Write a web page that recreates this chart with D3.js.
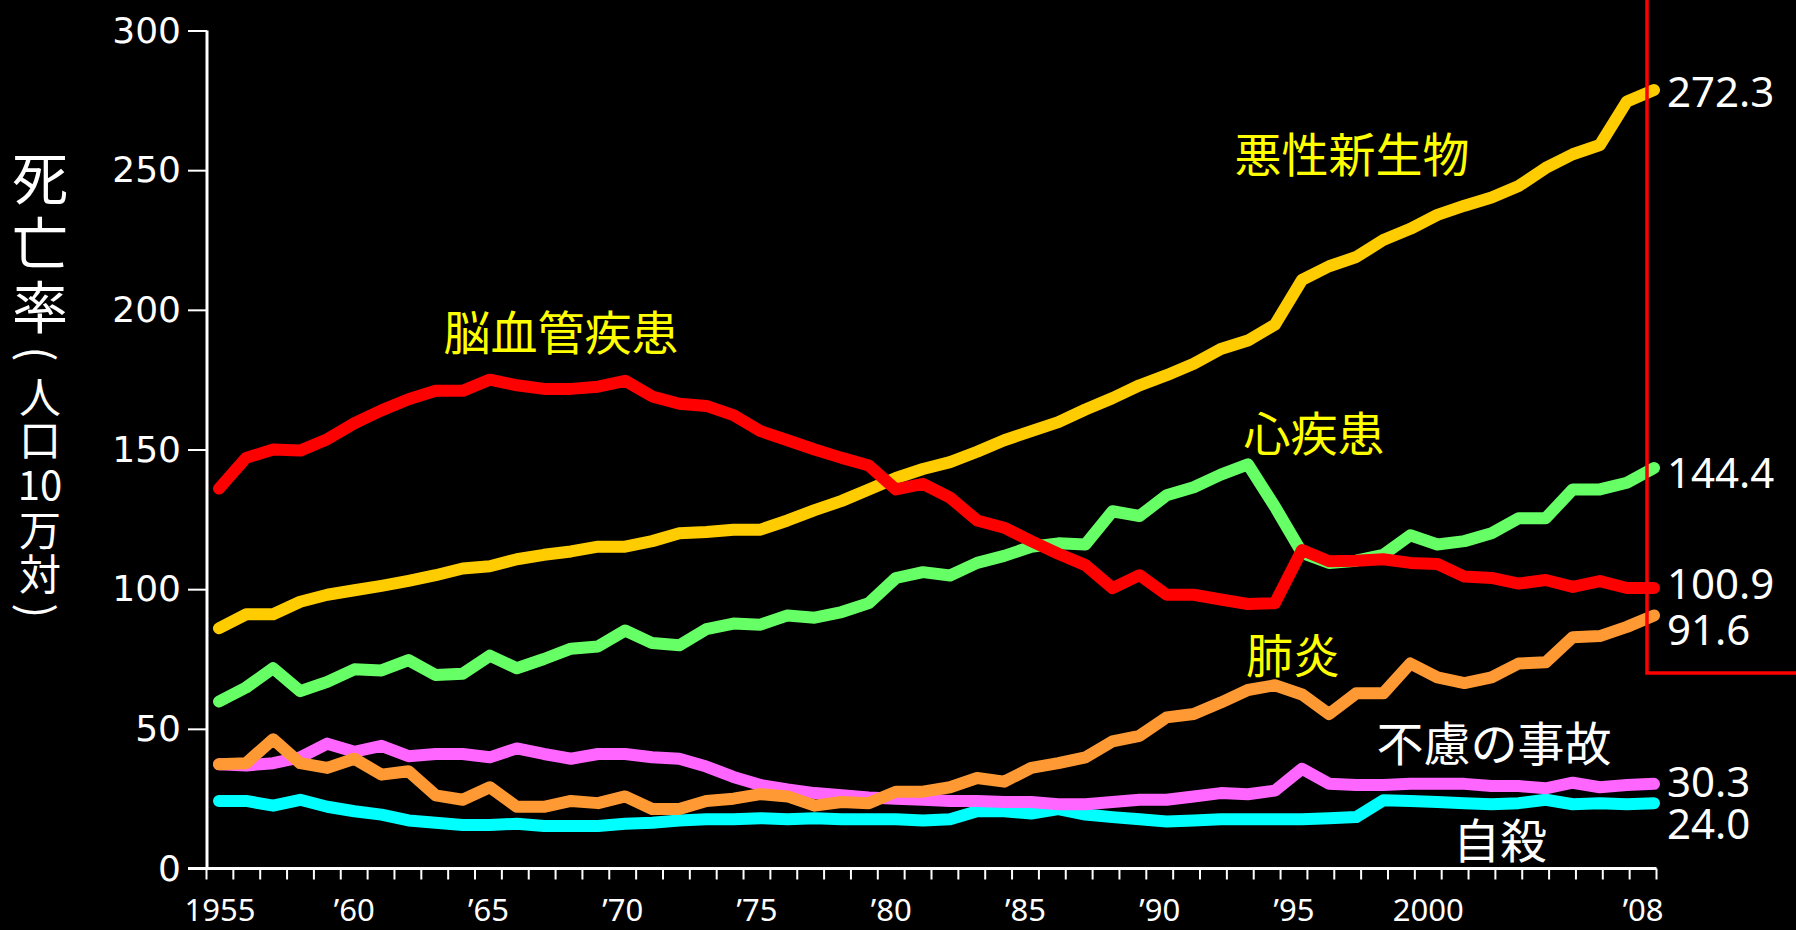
<!DOCTYPE html>
<html><head><meta charset="utf-8">
<script src="https://cdn.jsdelivr.net/npm/d3@7/dist/d3.min.js"></script>
<style>html,body{margin:0;padding:0;background:#000;overflow:hidden}</style>
</head><body>
<svg id="c" width="1796" height="930"></svg>
<script>
const years = d3.range(1955, 2009);
const xTickLabels = {1955:"1955",1960:"’60",1965:"’65",1970:"’70",1975:"’75",1980:"’80",1985:"’85",1990:"’90",1995:"’95",2000:"2000",2008:"’08"};
const yTicks = [0,50,100,150,200,250,300];

const cancer = [86,91,91,95.5,98,99.6,101.2,103,105,107.4,108.2,110.7,112.3,113.5,115.2,115.2,117.2,120,120.5,121.3,121.3,124.6,128.3,131.6,135.7,139.8,143,145.5,149.2,153.3,156.6,159.8,164.3,168.4,173,176.6,180.7,186,189,194.7,210.7,215.6,218.9,225,229,234,237.3,240.2,244.3,250.8,255.7,259,274.6,278.7];
const stroke = [136,147,150,149.6,153.7,159.4,164,168,171,171,175,173,171.7,171.7,172.5,174.6,169,166.4,165.6,162.3,156.6,153.3,150,147,144.3,135.7,137.7,132.8,124.6,122,117.2,112.7,108.6,100.4,105,98,98,96.3,94.7,95,114,110,110.2,110.7,109.4,109,104.5,104,102,103.3,100.8,102.9,100.4,100.4];
const heart = [59.8,64.8,71.7,63.5,66.8,71.3,70.9,74.6,69.3,69.7,76.2,71.7,75,78.7,79.5,85.2,80.7,79.9,85.7,87.7,87.3,90.6,89.8,91.8,95,104,106.1,104.9,109.4,111.9,115.2,116.4,116,127.9,126.2,133.6,136.5,141,144.7,129.5,113,109.4,110.2,112.3,119.3,116,117.2,120,125.4,125.4,135.7,135.7,138.1,143.4];
const pneumonia = [37.3,37.7,46.3,37.7,36,39.3,33.6,34.8,26.2,24.6,29.1,22.1,22.1,24.2,23.4,25.8,21.3,21.3,24.2,25,26.6,25.8,22.5,23.8,23.4,27.5,27.5,29.1,32.4,31.1,36,37.7,39.8,45.5,47.5,54.1,55.3,59.4,63.9,65.6,62.3,55.3,62.7,62.7,73.4,68.4,66.4,68.4,73.4,73.8,82.8,83.2,86.5,90.6];
const accident = [37.3,36.9,37.7,39.8,44.7,41.8,43.9,40.2,41,41,39.8,43,41,39.3,41,41,39.8,39.3,36.5,32.8,29.9,28.3,27,26.2,25.4,25,24.6,24.2,24.2,23.8,23.8,23,23,23.8,24.6,24.6,25.8,27,26.6,27.9,35.7,30.3,29.9,29.9,30.3,30.3,30.3,29.5,29.5,28.7,30.7,29.1,29.9,30.3];
const suicide = [24.2,24.2,22.5,24.6,22.1,20.5,19.3,17.2,16.4,15.6,15.6,16,15.2,15.2,15.2,16,16.4,17.2,17.6,17.6,18,17.6,18,17.6,17.6,17.6,17.2,17.6,20.5,20.5,19.7,21.3,19.3,18.4,17.6,16.8,17.2,17.6,17.6,17.6,17.6,18,18.4,24.4,24.2,23.8,23.4,23,23.4,24.6,23,23.4,23,23.4];

const seriesNames = ["自殺","不慮の事故","肺炎","心疾患","悪性新生物","脳血管疾患"];
const seriesData = [suicide, accident, pneumonia, heart, cancer, stroke];
const seriesColors = ["#00FFFF","#FF66FF","#FF9933","#66FF66","#FFCC00","#FF0000"];
const endLabels = ["24.0","30.3","91.6","144.4","272.3","100.9"];

const svg = d3.select("#c");
svg.append("rect").attr("width",1796).attr("height",930).attr("fill","#000");

const y = d3.scaleLinear().domain([0,300]).range([868.5,30.5]);
const xBand = d3.scaleBand().domain(years).range([206.5,1656.5]).padding(0);
const xPt = d3.scalePoint().domain(years).range([219,1654]);

// Lines
const line = d3.line().x((d,i)=>xPt(years[i])).y(d=>y(d));
seriesData.forEach((s,k)=>{
  svg.append("path").datum(s).attr("d",line).attr("fill","none")
    .attr("stroke",seriesColors[k]).attr("stroke-width",12)
    .attr("stroke-linecap","round").attr("stroke-linejoin","round");
});

// Y axis
const yAxis = svg.append("g").attr("transform","translate(207,0)")
  .call(d3.axisLeft(y).tickValues(yTicks).tickSize(19).tickPadding(7).tickFormat(d3.format("d")));
yAxis.select(".domain").attr("stroke","#fff").attr("stroke-width",3).attr("d","M0,30.5V868.5");
yAxis.selectAll(".tick line").attr("stroke","#fff").attr("stroke-width",2);
yAxis.selectAll(".tick text").attr("fill","#fff").attr("font-family","DejaVu Sans").attr("font-size",36);

// X axis
const xAxis = svg.append("g").attr("transform","translate(0,868.5)");
xAxis.append("line").attr("x1",188).attr("x2",1656.5).attr("y1",0).attr("y2",0).attr("stroke","#fff").attr("stroke-width",3);
const bounds = years.map(yr=>xBand(yr)).concat([xBand(2008)+xBand.bandwidth()]);
xAxis.selectAll("line.tk").data(bounds).enter().append("line").attr("class","tk")
  .attr("x1",d=>d).attr("x2",d=>d).attr("y1",0).attr("y2",11).attr("stroke","#fff").attr("stroke-width",2);
xAxis.selectAll("text").data(years.filter(yr=>xTickLabels[yr])).enter().append("text")
  .attr("x",d=>xBand(d)+xBand.bandwidth()/2).attr("y",52).attr("text-anchor","middle")
  .attr("fill","#fff").attr("font-family","Noto Sans").attr("font-size",31)
  .text(d=>xTickLabels[d]);

// Y title (vertical)
const titleParts = [["死",174,56,0],["亡",239,56,0],["率",303,56,0],["(",354,44,90],["人",394,42,0],["口",437,42,0],["10",483,40,0],["万",527,42,0],["対",571,42,0],[")",611,44,90]];
svg.selectAll("text.yt").data(titleParts).enter().append("text").attr("class","yt")
  .attr("x",40).attr("y",d=>d[1]).attr("text-anchor","middle").attr("dominant-baseline","central")
  .attr("transform",d=>d[3]?`rotate(${d[3]},40,${d[1]})`:null)
  .attr("fill","#fff").attr("font-family","Noto Sans CJK JP").attr("font-size",d=>d[2]).text(d=>d[0]);

// Series labels
const seriesLabelPos = [[1500,837,"#fff"],[1494,740,"#fff"],[1293,652,"#FFFF00"],[1314,430,"#FFFF00"],[1352,151,"#FFFF00"],[561,329,"#FFFF00"]];
seriesNames.forEach((n,k)=>{
  svg.append("text").attr("x",seriesLabelPos[k][0]).attr("y",seriesLabelPos[k][1])
    .attr("text-anchor","middle").attr("dominant-baseline","central")
    .attr("fill",seriesLabelPos[k][2]).attr("font-family","Noto Sans CJK JP").attr("font-size",47)
    .text(n);
});

// End value labels
const endY = [822,780,628,471,90,582];
endLabels.forEach((t,k)=>{
  svg.append("text").attr("x",1667).attr("y",endY[k]).attr("dominant-baseline","central")
    .attr("fill","#fff").attr("font-family","Noto Sans").attr("font-size",42).text(t);
});

// Red highlight box
svg.append("rect").attr("x",1647).attr("y",-10).attr("width",170).attr("height",683)
  .attr("fill","none").attr("stroke","#FF0000").attr("stroke-width",3.5);
</script>
</body></html>
